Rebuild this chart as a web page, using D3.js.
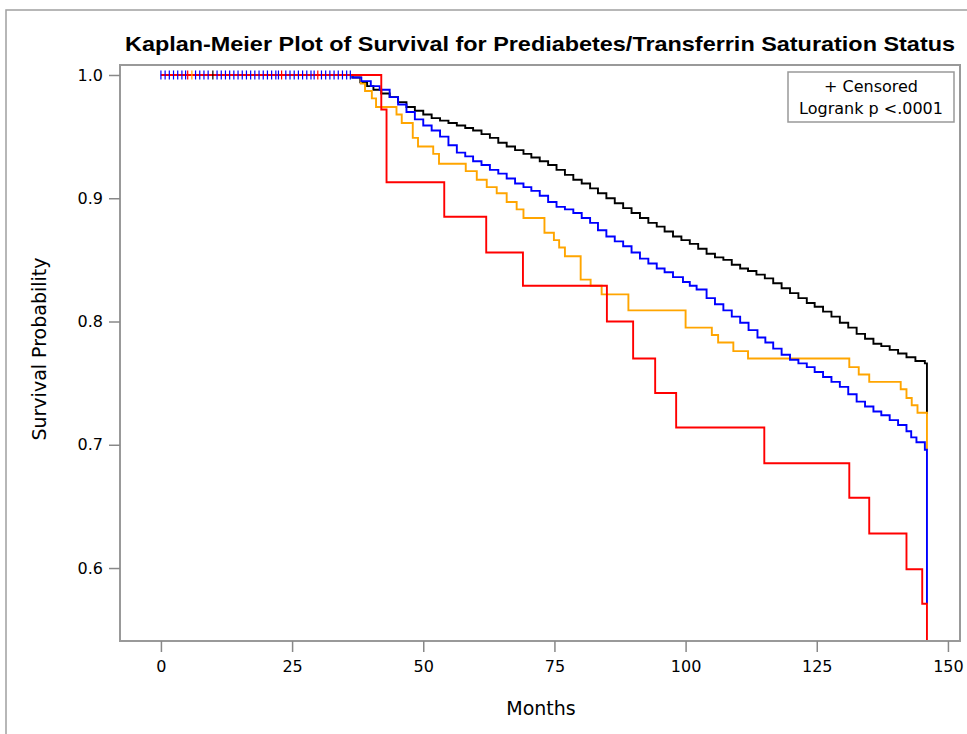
<!DOCTYPE html>
<html>
<head>
<meta charset="utf-8">
<script src="https://cdn.jsdelivr.net/npm/d3@7"></script>
<style>
  body { margin: 0; background: #fff; }
  text { font-family: "DejaVu Sans", Verdana, sans-serif; fill: #000; }
</style>
</head>
<body>
<div id="chart"></div>
<script>
// step knots: [month, survival after the drop]
const blackSteps = [[0, 1], [36.5, 0.998], [38.0, 0.994], [39.3, 0.991], [40.5, 0.988], [42.0, 0.985], [43.6, 0.982],
  [45.2, 0.978], [46.8, 0.974], [48.4, 0.971], [50.0, 0.968], [51.6, 0.965], [53.2, 0.963], [54.8, 0.961], [56.4, 0.959],
  [58.0, 0.957], [59.5, 0.955], [61.1, 0.952], [62.7, 0.949], [64.3, 0.945], [65.9, 0.942], [67.5, 0.939], [69.1, 0.936],
  [70.6, 0.933], [72.2, 0.930], [73.8, 0.927], [75.4, 0.923], [77.0, 0.919], [78.6, 0.915], [80.2, 0.912], [81.8, 0.908],
  [83.3, 0.904], [84.9, 0.900], [86.5, 0.896], [88.1, 0.892], [89.7, 0.888], [91.3, 0.884], [92.9, 0.880], [94.5, 0.877],
  [96.0, 0.873], [97.6, 0.869], [99.2, 0.866], [100.8, 0.863], [102.4, 0.859], [104.0, 0.855], [105.6, 0.852],
  [107.2, 0.850], [108.8, 0.846], [110.4, 0.843], [111.9, 0.841], [113.5, 0.838], [115.1, 0.835], [116.7, 0.831],
  [118.3, 0.827], [119.9, 0.823], [121.5, 0.819], [123.1, 0.815], [124.6, 0.812], [126.2, 0.808], [127.8, 0.804],
  [129.4, 0.799], [131.0, 0.795], [132.6, 0.790], [134.2, 0.786], [135.8, 0.782], [137.3, 0.780], [138.9, 0.777],
  [140.5, 0.774], [142.1, 0.771], [143.8, 0.768], [145.6, 0.766], [146.0, 0.725]];

const orangeSteps = [[0, 1], [38.1, 0.993], [38.9, 0.987], [40.2, 0.981], [41.0, 0.974], [44.9, 0.968], [45.9, 0.961],
  [48.0, 0.949], [49.0, 0.942], [51.9, 0.936], [53.0, 0.928], [58.1, 0.922], [60.2, 0.915], [62.1, 0.909], [64.0, 0.904],
  [65.9, 0.897], [67.8, 0.891], [69.1, 0.884], [73.1, 0.872], [74.9, 0.866], [75.9, 0.860], [77.0, 0.853], [80.0, 0.834],
  [81.9, 0.829], [84.0, 0.822], [89.1, 0.809], [100.0, 0.795], [105.0, 0.789], [106.2, 0.783], [109.1, 0.776],
  [111.9, 0.770], [131.2, 0.763], [133.0, 0.757], [135.0, 0.751], [141.0, 0.745], [142.1, 0.738], [143.1, 0.732],
  [144.2, 0.726], [146.0, 0.696]];

const blueSteps = [[0, 1], [36.5, 0.998], [38.2, 0.995], [40.0, 0.991], [41.7, 0.988], [43.6, 0.982], [45.2, 0.976],
  [46.8, 0.970], [48.4, 0.964], [50.0, 0.959], [51.6, 0.955], [53.2, 0.950], [54.8, 0.943], [56.4, 0.937], [58.0, 0.934],
  [59.5, 0.930], [61.1, 0.927], [62.7, 0.923], [64.3, 0.920], [65.9, 0.916], [67.5, 0.912], [69.1, 0.909], [70.6, 0.906],
  [72.2, 0.902], [73.8, 0.897], [75.4, 0.893], [77.0, 0.891], [78.6, 0.888], [80.2, 0.884], [81.8, 0.880], [83.3, 0.874],
  [84.9, 0.869], [86.5, 0.865], [88.1, 0.861], [89.7, 0.856], [91.3, 0.851], [92.9, 0.847], [94.5, 0.843], [96.0, 0.840],
  [97.6, 0.836], [99.5, 0.832], [100.8, 0.829], [102.1, 0.826], [104.0, 0.819], [105.6, 0.814], [107.2, 0.809],
  [108.8, 0.804], [110.4, 0.799], [112.0, 0.793], [113.7, 0.787], [115.2, 0.783], [116.7, 0.778], [118.3, 0.773],
  [119.9, 0.769], [121.5, 0.766], [123.1, 0.763], [124.6, 0.759], [126.2, 0.755], [127.8, 0.751], [129.4, 0.747],
  [131.0, 0.741], [132.6, 0.735], [134.2, 0.731], [135.8, 0.727], [137.3, 0.724], [138.9, 0.720], [140.5, 0.716],
  [142.1, 0.711], [143.0, 0.706], [144.0, 0.702], [145.6, 0.696], [146.0, 0.571]];

const redSteps = [[0, 1], [42.0, 0.972], [43.0, 0.913], [54.0, 0.885], [62.0, 0.856], [69.0, 0.829], [85.0, 0.800],
  [90.0, 0.770], [94.2, 0.742], [98.2, 0.714], [115.0, 0.685], [131.2, 0.657], [135.0, 0.628], [142.1, 0.599],
  [145.1, 0.571], [146.0, 0.50]];

// censored times (months)
const blackCensored = [9.9];
const orangeCensored = [5.9];
const redCensored = [5.1, 23.0, 29.9];
const blueCensored = [0, 0.8, 1.6, 2.4, 3.2, 4.0, 4.7, 6.6, 7.4, 8.2, 9.0, 10.7, 11.5, 12.3, 13.1, 13.9, 14.7,
  15.5, 16.3, 17.1, 17.9, 18.7, 19.5, 20.3, 21.1, 21.9, 22.4, 23.8, 24.6, 25.4, 26.2, 27.0, 27.8, 28.6, 29.2,
  30.6, 31.4, 32.2, 33.0, 33.8, 34.6, 35.4, 36.1];

const series = [
  { steps: blackSteps, censored: blackCensored, color: '#000000' },
  { steps: orangeSteps, censored: orangeCensored, color: '#ffa500' },
  { steps: blueSteps, censored: blueCensored, color: '#0000ff' },
  { steps: redSteps, censored: redCensored, color: '#ff0000' }
];

const xTicks = [0, 25, 50, 75, 100, 125, 150];
const yTicks = [0.6, 0.7, 0.8, 0.9, 1.0];

const width = 967, height = 734;
const plotLeft = 120, plotRight = 960, plotTop = 65, plotBottom = 641;

const svg = d3.select('#chart').append('svg')
  .attr('width', width)
  .attr('height', height);

// outer border
svg.append('rect')
  .attr('x', 6).attr('y', 10)
  .attr('width', 1000).attr('height', 800)
  .attr('fill', 'none')
  .attr('stroke', '#a0a0a0')
  .attr('stroke-width', 1.5);

const x = d3.scaleLinear().domain([-7.8, 152.3]).range([plotLeft, plotRight]);
const y = d3.scaleLinear().domain([0.5408, 1.0081]).range([plotBottom, plotTop]);

svg.append('clipPath').attr('id', 'plotclip')
  .append('rect')
  .attr('x', plotLeft).attr('y', plotTop)
  .attr('width', plotRight - plotLeft).attr('height', plotBottom - plotTop);

const line = d3.line()
  .x(d => x(d[0]))
  .y(d => y(d[1]))
  .curve(d3.curveStepAfter);

const plot = svg.append('g').attr('clip-path', 'url(#plotclip)');

series.forEach(function (s) {
  plot.append('path')
    .datum(s.steps)
    .attr('d', line)
    .attr('fill', 'none')
    .attr('stroke', s.color)
    .attr('stroke-width', 1.9);
});

series.forEach(function (s) {
  plot.selectAll(null)
    .data(s.censored)
    .enter()
    .append('line')
    .attr('x1', d => x(d)).attr('x2', d => x(d))
    .attr('y1', y(1) - 4.5).attr('y2', y(1) + 4.5)
    .attr('stroke', s.color)
    .attr('stroke-width', 1.2);
});

// frame
svg.append('rect')
  .attr('x', plotLeft).attr('y', plotTop)
  .attr('width', plotRight - plotLeft).attr('height', plotBottom - plotTop)
  .attr('fill', 'none')
  .attr('stroke', '#999')
  .attr('stroke-width', 2);

const xAxis = svg.append('g')
  .attr('transform', `translate(0,${plotBottom})`)
  .call(d3.axisBottom(x).tickValues(xTicks).tickSize(11).tickPadding(9).tickFormat(d3.format('d')));
const yAxis = svg.append('g')
  .attr('transform', `translate(${plotLeft},0)`)
  .call(d3.axisLeft(y).tickValues(yTicks).tickSize(11).tickPadding(6).tickFormat(d3.format('.1f')));

[xAxis, yAxis].forEach(function (ax) {
  ax.select('.domain').remove();
  ax.selectAll('.tick line').attr('stroke', '#888').attr('stroke-width', 1.5);
  ax.selectAll('.tick text')
    .attr('font-size', 16)
    .attr('fill', '#000');
});

svg.append('text')
  .attr('x', 540).attr('y', 51)
  .attr('text-anchor', 'middle')
  .style('font-family', '"Liberation Sans", Arial, sans-serif')
  .attr('font-size', 21)
  .attr('font-weight', 'bold')
  .attr('textLength', 830)
  .attr('lengthAdjust', 'spacingAndGlyphs')
  .text('Kaplan-Meier Plot of Survival for Prediabetes/Transferrin Saturation Status');

svg.append('text')
  .attr('x', 541).attr('y', 715)
  .attr('text-anchor', 'middle')
  .attr('font-size', 19)
  .text('Months');

svg.append('text')
  .attr('transform', 'translate(46,349) rotate(-90)')
  .attr('text-anchor', 'middle')
  .attr('font-size', 19)
  .text('Survival Probability');

// legend box
const legend = svg.append('g');
legend.append('rect')
  .attr('x', 788).attr('y', 72)
  .attr('width', 166).attr('height', 50)
  .attr('fill', '#fff')
  .attr('stroke', '#999')
  .attr('stroke-width', 1.5);
legend.append('text')
  .attr('x', 871).attr('y', 92)
  .attr('text-anchor', 'middle')
  .attr('font-size', 16)
  .text('+ Censored');
legend.append('text')
  .attr('x', 871).attr('y', 114)
  .attr('text-anchor', 'middle')
  .attr('font-size', 16)
  .text('Logrank p <.0001');
</script>
</body>
</html>
